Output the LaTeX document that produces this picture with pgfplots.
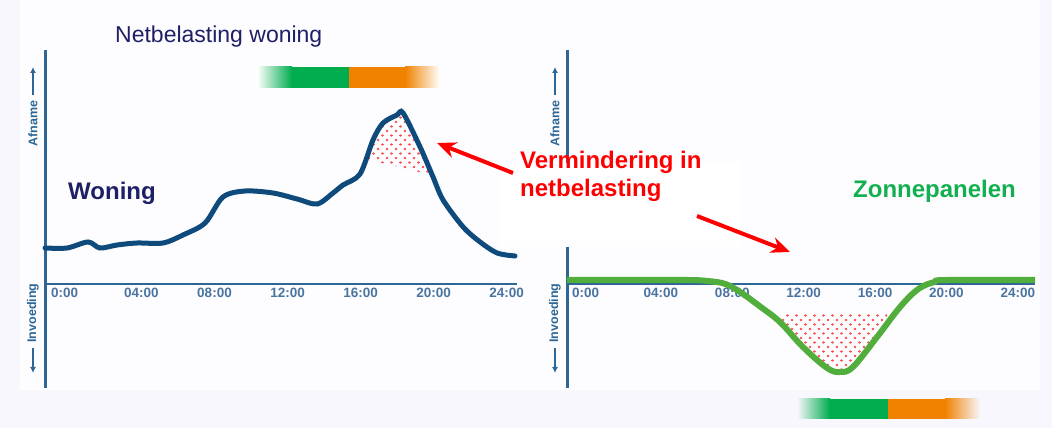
\documentclass[border=0pt]{standalone}
\usepackage{fontspec}
\setmainfont{Liberation Sans}
\usepackage{pgfplots}
\pgfplotsset{compat=1.18}
\usepgfplotslibrary{fillbetween}
\usetikzlibrary{patterns.meta, arrows.meta}

\definecolor{lav}{HTML}{F8F7FD}
\definecolor{panelbg}{HTML}{FDFDFF}
\definecolor{axisblue}{HTML}{2E6796}
\definecolor{ticklab}{HTML}{4A74A0}
\definecolor{curveblue}{HTML}{0E4A7B}
\definecolor{navy}{HTML}{1F1F66}
\definecolor{curvegreen}{HTML}{52AE3C}
\definecolor{textgreen}{HTML}{12B050}
\definecolor{bargreen}{HTML}{00AC4E}
\definecolor{barorange}{HTML}{F08200}

\tikzdeclarepattern{
  name=reddots,
  type=uncolored,
  bottom left={(-4.5pt,-4.5pt)},
  top right={(4.5pt,4.5pt)},
  tile size={(9pt,9pt)},
  code={
    \pgfpathcircle{\pgfpoint{0pt}{0pt}}{1.4pt}
    \pgfpathcircle{\pgfpoint{4.5pt}{4.5pt}}{1.4pt}
    \pgfpathcircle{\pgfpoint{-4.5pt}{4.5pt}}{1.4pt}
    \pgfpathcircle{\pgfpoint{4.5pt}{-4.5pt}}{1.4pt}
    \pgfpathcircle{\pgfpoint{-4.5pt}{-4.5pt}}{1.4pt}
    \pgfusepath{fill}
  }
}
\tikzset{dotfill/.style={pattern=reddots, pattern color=red!70}}

\pgfplotsset{
  panel/.style={
    scale only axis, height=338pt,
    ymin=-104, ymax=234,
    axis x line=middle, axis y line=left,
    axis line style={-, draw=axisblue},
    x axis line style={line width=2.5pt},
    y axis line style={line width=3pt},
    xtick={0,4,...,24},
    xticklabels={0:00,04:00,08:00,12:00,16:00,20:00,24:00},
    ytick=\empty, major tick length=0pt,
    hide obscured x ticks=false,
    xticklabel style={anchor=north west, inner sep=0pt, yshift=-4pt,
      font=\fontsize{13.5}{14}\selectfont\bfseries, text=ticklab},
    /pgf/number format/assume math mode=true,
    clip=false,
  },
}

\pgfplotstableread{
h     v
-0.33 36
0.88  36
2.03  42
2.68  36
3.62  39
4.71  41
6.14  41
7.23  49
8.44  61
9.42  87
10.63 93
12.16 91
13.48 85
14.58 80
15.45 91
16.0  99
16.93 110
17.64 144
18.19 161
18.96 169
19.29 171
20.22 137
20.93 107
21.48 84
22.58 57
23.51 42
24.44 31
25.42 28
}\woningdata

\pgfplotstableread{
h     v
-0.28 4
3.0   4
6.5   4
7.6   3
8.6   0
9.5   -9
10.5  -22
11.65 -38
12.94 -63
14.29 -84
15.01 -88
15.74 -83
17.09 -53
18.38 -23
19.4  -5
20.3  2
21.0  4
25.94 4
}\zondata

\begin{document}
\begin{tikzpicture}

% left panel: household load
\begin{axis}[panel, at={(45pt,40pt)}, anchor=south west,
  width=472pt, xmin=-0.33, xmax=25.53]
\begin{pgfonlayer}{axis background}
\fill[lav] ([shift={(-45pt,-40pt)}]rel axis cs:0,0) rectangle ([shift={(1007pt,388pt)}]rel axis cs:0,0);
\fill[panelbg] ([shift={(-25pt,-2pt)}]rel axis cs:0,0) rectangle ([shift={(995pt,388pt)}]rel axis cs:0,0);
\end{pgfonlayer}
\addplot[draw=none, name path=woning, smooth, tension=0.5] table[x=h, y=v] {\woningdata};
\addplot[draw=none, name path=cut] coordinates {(17.2,125) (20.9,109)};
\addplot[dotfill] fill between[of=woning and cut, soft clip={domain=17.25:20.88}];
\addplot[curveblue, line width=5pt, smooth, tension=0.5, line cap=round] table[x=h, y=v] {\woningdata};
\end{axis}

% right panel: solar panels
\begin{axis}[panel, at={(567pt,40pt)}, anchor=south west,
  width=468pt, xmin=-0.28, xmax=25.94]
\addplot[draw=none, name path=zon, smooth, tension=0.6] table[x=h, y=v] {\zondata};
\addplot[draw=none, name path=top] coordinates {(11.5,-29) (17.8,-29)};
\addplot[dotfill] fill between[of=zon and top, soft clip={domain=11.65:17.65}];
\addplot[curvegreen, line width=6pt, smooth, tension=0.6] table[x=h, y=v] {\zondata};
\end{axis}

\begin{scope}[x=1pt, y=1pt]
% white box behind the annotation
\fill[white] (500,181) rectangle (740,265);

% titles and labels
\node[anchor=base west, inner sep=0pt, text=navy,
  font=\fontsize{23}{26}\selectfont] at (115,385) {Netbelasting woning};
\node[anchor=base west, inner sep=0pt, text=navy,
  font=\fontsize{24}{28}\selectfont\bfseries] at (68,228) {Woning};
\node[anchor=base west, inner sep=0pt, text=textgreen,
  font=\fontsize{24}{28}\selectfont\bfseries] at (853,230) {Zonnepanelen};
\node[anchor=base west, inner sep=0pt, text=red, align=left,
  font=\fontsize{24}{28}\selectfont\bfseries] at (520,231)
  {Vermindering in\\netbelasting};

% red arrows
\draw[red, line width=4pt, -{Stealth[length=19pt, width=16pt]}] (513,255) -- (437,285);
\draw[red, line width=4pt, -{Stealth[length=19pt, width=16pt]}] (697,212) -- (790,176);

% axis direction labels
\foreach \xx in {33,555} {
  \node[rotate=90, inner sep=0pt, text=axisblue,
    font=\fontsize{12.5}{12}\selectfont\bfseries] at (\xx,304.5) {Afname};
  \draw[axisblue, line width=1.3pt, -{Latex[length=6pt, width=6pt]}] (\xx,333) -- (\xx,361);
  \node[rotate=90, inner sep=0pt, text=axisblue,
    font=\fontsize{12.5}{12}\selectfont\bfseries] at (\xx,115) {Invoeding};
  \draw[axisblue, line width=1.3pt, -{Latex[length=6pt, width=6pt]}] (\xx,80) -- (\xx,55);
}

% tariff bars
\shade[left color=white, right color=bargreen] (257,340) rectangle (292,361);
\fill[bargreen] (291.5,340) rectangle (349,361);
\fill[barorange] (349,340) rectangle (405.5,361);
\shade[left color=barorange, right color=white] (405,340) rectangle (440,361);

\shade[left color=lav, right color=bargreen] (797,9) rectangle (830,29);
\fill[bargreen] (829.5,9) rectangle (888,29);
\fill[barorange] (888,9) rectangle (945.5,29);
\shade[left color=barorange, right color=lav] (945,9) rectangle (980,29);
\end{scope}

\pgfresetboundingbox
\useasboundingbox (0pt,0pt) rectangle (1052pt,428pt);
\end{tikzpicture}
\end{document}
